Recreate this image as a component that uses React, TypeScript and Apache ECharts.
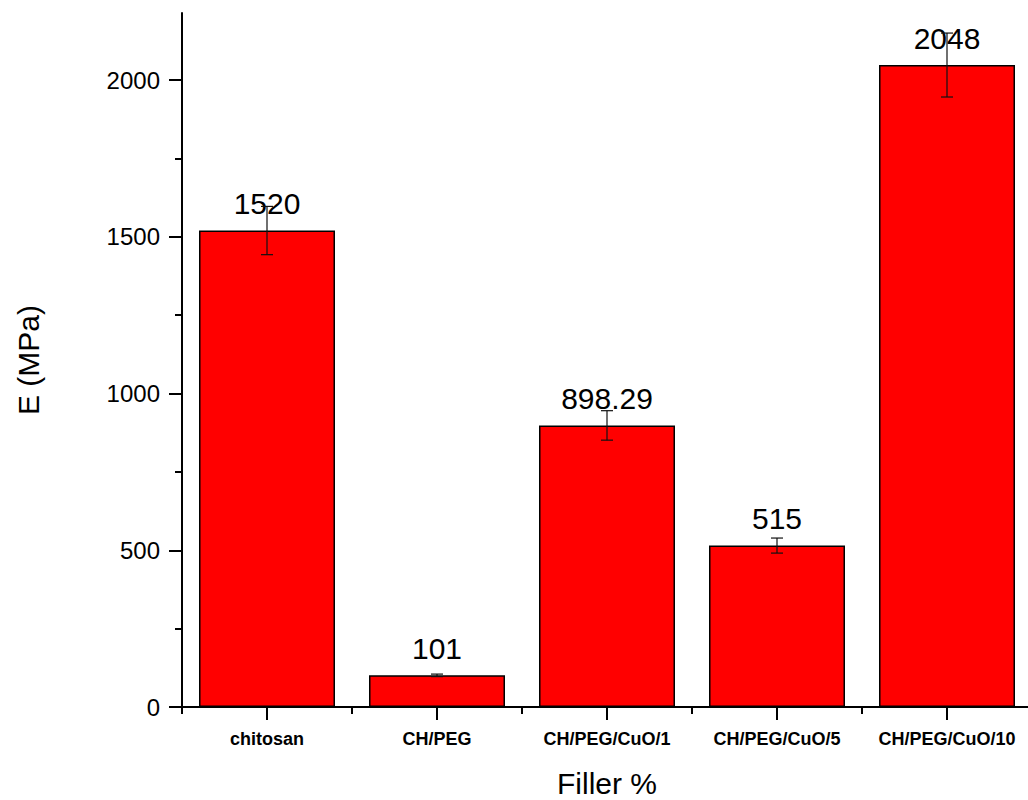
import React, { useEffect, useRef } from "react";
import * as echarts from "echarts";

const categories = ["chitosan", "CH/PEG", "CH/PEG/CuO/1", "CH/PEG/CuO/5", "CH/PEG/CuO/10"];
const values = [1520, 101, 898.29, 515, 2048];
const valueLabels = ["1520", "101", "898.29", "515", "2048"];
const errors = [77, 4, 47, 24, 102];
const yMajorTicks = [0, 500, 1000, 1500, 2000];
const yMinorTicks = [250, 750, 1250, 1750];

const FONT = "'Liberation Sans', Arial, sans-serif";

export default function App() {
  const ref = useRef<HTMLDivElement>(null);
  useEffect(() => {
    if (!ref.current) return;
    const chart = echarts.init(ref.current, null, { renderer: "svg" });
    const yMax = 2214;
    chart.setOption({
      animation: false,
      backgroundColor: "#ffffff",
      textStyle: { fontFamily: FONT },
      grid: { left: 182, top: 13, bottom: 93, right: -4, containLabel: false, outerBoundsMode: "none" },
      xAxis: [
        {
          type: "category",
          data: categories,
          name: "Filler %",
          nameLocation: "middle",
          nameGap: 61,
          nameTextStyle: { fontSize: 30, color: "#000", fontFamily: FONT },
          axisLine: { show: true, lineStyle: { color: "#000", width: 2 } },
          axisTick: { show: true, alignWithLabel: true, length: 13, lineStyle: { color: "#000", width: 2 } },
          axisLabel: { fontSize: 18, fontWeight: "bold", color: "#000", margin: 23, fontFamily: FONT, interval: 0 },
          splitLine: { show: false },
        },
        {
          type: "category",
          data: categories,
          position: "bottom",
          axisLine: { show: false },
          axisTick: { show: true, length: 7, lineStyle: { color: "#000", width: 2 } },
          axisLabel: { show: false },
          splitLine: { show: false },
        },
      ],
      yAxis: [
        {
          type: "value",
          min: 0,
          max: yMax,
          name: "E (MPa)",
          nameLocation: "middle",
          nameGap: 139,
          nameTextStyle: { fontSize: 30, color: "#000", fontFamily: FONT },
          axisLine: { show: true, lineStyle: { color: "#000", width: 2 } },
          axisTick: { show: true, length: 13, customValues: yMajorTicks, lineStyle: { color: "#000", width: 2 } },
          axisLabel: {
            fontSize: 24,
            color: "#000",
            margin: 22,
            customValues: yMajorTicks,
            fontFamily: FONT,
            formatter: (v: number) => String(v),
          },
          splitLine: { show: false },
        },
        {
          type: "value",
          min: 0,
          max: yMax,
          position: "left",
          axisLine: { show: false },
          axisTick: { show: true, length: 7, customValues: yMinorTicks, lineStyle: { color: "#000", width: 2 } },
          axisLabel: { show: false, customValues: yMinorTicks },
          splitLine: { show: false },
        },
      ],
      series: [
        {
          type: "bar",
          data: values,
          barWidth: "80%",
          xAxisIndex: 0,
          yAxisIndex: 0,
          itemStyle: { color: "#ff0000", borderColor: "#000", borderWidth: 1.5 },
          label: {
            show: true,
            position: "top",
            distance: 12,
            fontSize: 30,
            color: "#000",
            fontFamily: FONT,
            formatter: (p: any) => valueLabels[p.dataIndex],
          },
          z: 2,
        },
        {
          type: "custom",
          xAxisIndex: 0,
          yAxisIndex: 0,
          z: 10,
          data: values.map((v, i) => [i, v, errors[i]]),
          renderItem: (params: any, api: any) => {
            const x = api.value(0);
            const v = api.value(1);
            const e = api.value(2);
            const top = api.coord([x, v + e]);
            const bot = api.coord([x, v - e]);
            const half = 6;
            const style = { stroke: "#111", lineWidth: 1.2 };
            return {
              type: "group",
              children: [
                { type: "line", shape: { x1: top[0], y1: top[1], x2: bot[0], y2: bot[1] }, style },
                { type: "line", shape: { x1: top[0] - half, y1: top[1], x2: top[0] + half, y2: top[1] }, style },
                { type: "line", shape: { x1: bot[0] - half, y1: bot[1], x2: bot[0] + half, y2: bot[1] }, style },
              ],
            };
          },
        },
      ],
    });
    return () => chart.dispose();
  }, []);
  return (
    <div
      ref={ref}
      style={{ position: "fixed", left: 0, top: 0, width: 1028, height: 800, background: "#fff" }}
    />
  );
}
